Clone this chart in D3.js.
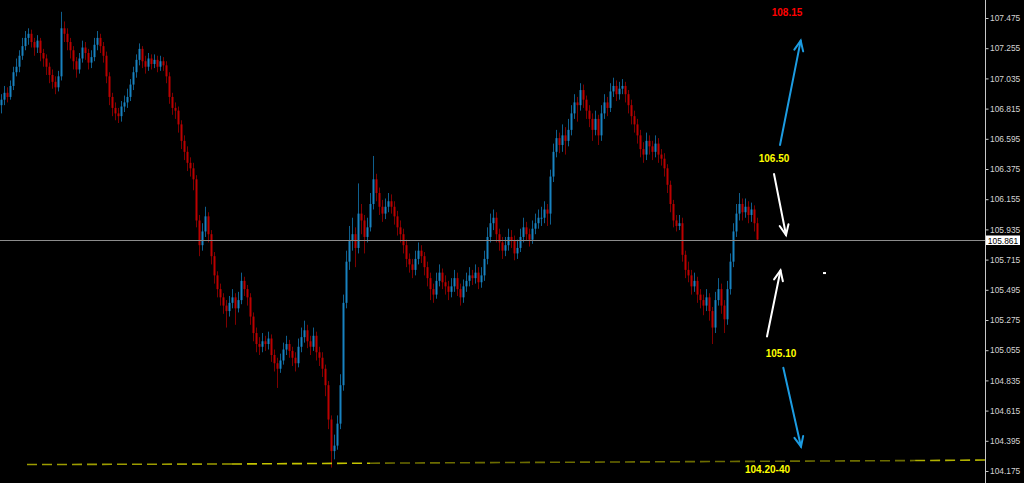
<!DOCTYPE html>
<html><head><meta charset="utf-8">
<script src="https://cdn.jsdelivr.net/npm/d3@7"></script>
<style>html,body{margin:0;padding:0;background:#000;overflow:hidden}</style>
</head><body><svg id="c" width="1024" height="483"></svg>
<script>
// ---- data ----
const firstOpen = 106.84;
const closes = [
106.88,106.93,106.90,106.98,107.08,107.12,107.20,107.27,107.33,107.36,
107.30,107.26,107.31,107.22,107.18,107.12,107.06,107.01,106.97,107.05,
107.40,107.36,107.30,107.24,107.16,107.10,107.18,107.26,107.22,107.15,
107.19,107.28,107.33,107.27,107.20,107.05,106.90,106.82,106.78,106.76,
106.83,106.86,106.90,106.99,107.08,107.17,107.25,107.16,107.12,107.18,
107.14,107.17,107.12,107.16,107.13,107.05,106.90,106.82,106.80,106.70,
106.58,106.50,106.42,106.38,106.30,106.00,105.82,105.92,106.03,105.90,
105.74,105.60,105.50,105.44,105.38,105.34,105.40,105.44,105.36,105.42,
105.56,105.50,105.44,105.30,105.18,105.10,105.08,105.12,105.10,105.14,
105.02,104.96,104.92,104.98,105.06,105.10,105.05,105.00,104.96,105.08,
105.15,105.20,105.12,105.08,105.16,105.04,105.00,104.92,104.80,104.55,
104.32,104.36,104.52,104.80,105.40,105.70,105.85,105.90,105.80,106.05,
106.00,105.88,105.95,106.12,106.30,106.20,106.10,106.05,106.10,106.14,
106.10,106.03,105.95,105.90,105.82,105.72,105.68,105.64,105.72,105.78,
105.74,105.66,105.58,105.50,105.46,105.56,105.62,105.55,105.52,105.48,
105.52,105.58,105.50,105.44,105.52,105.56,105.60,105.58,105.62,105.55,
105.60,105.72,105.88,105.98,106.02,105.90,105.84,105.78,105.82,105.88,
105.85,105.76,105.80,105.88,105.95,105.90,105.86,105.94,105.98,106.02,
106.02,106.08,106.05,106.32,106.50,106.60,106.55,106.62,106.58,106.66,
106.78,106.86,106.84,106.95,106.88,106.80,106.74,106.66,106.74,106.62,
106.78,106.86,106.82,106.94,106.98,106.92,106.96,106.98,106.92,106.84,
106.76,106.70,106.62,106.52,106.48,106.58,106.54,106.50,106.56,106.48,
106.45,106.38,106.26,106.12,106.00,105.96,105.98,105.75,105.64,105.60,
105.52,105.56,105.46,105.42,105.38,105.44,105.34,105.22,105.42,105.50,
105.38,105.28,105.50,105.70,105.92,106.05,106.12,106.06,106.10,106.04,106.08,105.98,105.861
];
const highs = [
106.92,106.98,106.97,107.02,107.12,107.18,107.24,107.33,107.38,107.40,
107.39,107.33,107.35,107.33,107.25,107.21,107.15,107.10,107.05,107.09,
107.52,107.45,107.40,107.33,107.27,107.19,107.22,107.31,107.30,107.25,
107.24,107.33,107.38,107.36,107.30,107.23,107.08,106.93,106.86,106.82,
106.87,106.91,106.96,107.03,107.12,107.21,107.29,107.27,107.20,107.22,
107.21,107.21,107.20,107.20,107.19,107.16,107.08,106.93,106.86,106.83,
106.73,106.62,106.54,106.46,106.42,106.33,106.04,105.98,106.10,106.06,
105.93,105.77,105.63,105.54,105.47,105.42,105.45,105.50,105.47,105.48,
105.62,105.59,105.53,105.47,105.33,105.22,105.15,105.18,105.16,105.19,
105.17,105.06,105.00,105.03,105.11,105.16,105.13,105.08,105.04,105.14,
105.22,105.27,105.24,105.16,105.22,105.19,105.08,105.04,104.95,104.83,
104.58,104.44,104.58,104.88,105.46,105.78,105.96,106.02,105.95,106.27,
106.12,106.04,106.02,106.20,106.47,106.34,106.24,106.15,106.16,106.20,
106.19,106.14,106.07,106.00,105.94,105.86,105.76,105.72,105.78,105.84,
105.82,105.77,105.70,105.62,105.54,105.62,105.68,105.65,105.60,105.56,
105.58,105.64,105.62,105.54,105.57,105.62,105.66,105.64,105.68,105.66,
105.66,105.78,105.95,106.05,106.08,106.06,105.94,105.88,105.88,105.94,
105.93,105.89,105.86,105.94,106.02,105.99,105.94,106.00,106.05,106.08,
106.10,106.14,106.12,106.37,106.56,106.66,106.64,106.70,106.68,106.74,
106.84,106.92,106.90,107.00,106.99,106.91,106.84,106.78,106.80,106.77,
106.84,106.92,106.90,107.00,107.04,107.02,107.01,107.03,107.01,106.95,
106.88,106.80,106.74,106.66,106.57,106.64,106.62,106.58,106.62,106.60,
106.52,106.49,106.41,106.29,106.15,106.04,106.04,106.02,105.78,105.70,
105.64,105.62,105.59,105.50,105.46,105.50,105.47,105.37,105.48,105.58,
105.54,105.42,105.56,105.76,105.98,106.12,106.20,106.16,106.16,106.14,106.13,106.11,106.02
];
const lows = [
106.78,106.84,106.86,106.88,106.95,107.05,107.08,107.17,107.24,107.28,
107.26,107.20,107.22,107.16,107.12,107.06,107.00,106.96,106.92,106.94,
107.02,107.30,107.24,107.18,107.10,107.04,107.07,107.15,107.17,107.10,
107.11,107.16,107.24,107.22,107.15,107.00,106.84,106.76,106.73,106.71,
106.72,106.79,106.82,106.87,106.95,107.04,107.13,107.11,107.07,107.09,
107.10,107.11,107.08,107.09,107.09,107.00,106.85,106.77,106.74,106.64,
106.52,106.44,106.36,106.32,106.22,105.95,105.74,105.78,105.88,105.84,
105.68,105.54,105.44,105.38,105.32,105.22,105.30,105.36,105.24,105.33,
105.39,105.45,105.38,105.24,105.12,105.04,105.02,105.04,105.05,105.06,
104.97,104.90,104.78,104.89,104.95,105.02,105.00,104.94,104.90,104.93,
105.04,105.11,105.07,105.02,105.05,104.98,104.94,104.86,104.72,104.48,
104.20,104.26,104.33,104.48,104.76,105.36,105.64,105.78,105.66,105.76,
105.90,105.76,105.84,105.92,106.08,106.14,106.04,105.99,106.01,106.06,
106.05,105.97,105.89,105.84,105.76,105.66,105.62,105.58,105.60,105.68,
105.69,105.60,105.52,105.42,105.40,105.43,105.52,105.50,105.46,105.42,
105.44,105.48,105.45,105.38,105.40,105.48,105.52,105.53,105.54,105.50,
105.51,105.56,105.68,105.84,105.93,105.84,105.78,105.72,105.74,105.78,
105.80,105.71,105.72,105.77,105.84,105.85,105.81,105.83,105.90,105.94,
105.96,105.98,105.96,105.97,106.28,106.46,106.49,106.50,106.48,106.54,
106.62,106.74,106.72,106.80,106.82,106.74,106.68,106.58,106.62,106.55,
106.58,106.74,106.76,106.79,106.90,106.87,106.88,106.92,106.86,106.78,
106.70,106.64,106.56,106.46,106.42,106.44,106.48,106.44,106.46,106.42,
106.40,106.32,106.20,106.06,105.95,105.92,105.93,105.70,105.58,105.55,
105.46,105.48,105.40,105.36,105.31,105.34,105.27,105.10,105.18,105.38,
105.32,105.18,105.24,105.46,105.66,105.88,106.00,106.00,106.02,105.98,105.99,105.92,105.85
];
const priceTicks = [107.475,107.255,107.035,106.815,106.595,106.375,106.155,105.935,
  105.715,105.495,105.275,105.055,104.835,104.615,104.395,104.175];
const lastPrice = 105.861;
const barSlots = 328;             // bar slots across the plot (data + empty right side)
const trendIdx   = [8.67, 77, 123, 304.7, 328];
const trendPrice = [104.222, 104.226, 104.232, 104.251, 104.255];
const trendColors = ["#9c9c00", "#c4c400", "#6c6c00", "#b0b000"];
const arrowFrom = [[259.67,106.550],[257.67,106.339],[255.33,105.155],[260.77,104.927]];
const arrowTo   = [[266.57,107.310],[261.67,105.894],[259.83,105.636],[266.67,104.352]];
const arrowColors = ["#1c9ce2","#ffffff","#ffffff","#1c9ce2"];
const labelText  = ["108.15","106.50","105.10","104.20-40"];
const labelAt    = [[262,107.486],[257.67,106.426],[260,105.005],[255.5,104.160]];
const labelColors = ["#ff0000","#ffff00","#ffff00","#ffff00"];
const markAt = [274.5, 105.617];

// ---- drawing ----
const svg = d3.select("#c");
svg.append("rect").attr("width",1024).attr("height",483).attr("fill","#000");
const y = d3.scaleLinear().domain([104.175,107.475]).range([471,18]);
const x = d3.scaleLinear().domain([0,barSlots]).range([1,985]);

const n = Math.min(closes.length, highs.length, lows.length);
const bars = d3.range(n).map(i => ({
  i, o: i === 0 ? firstOpen : closes[i-1], c: closes[i], h: highs[i], l: lows[i]
}));

const g = svg.append("g");
g.selectAll("line.wick").data(bars).join("line")
  .attr("x1", d => Math.round(x(d.i)) + 0.5).attr("x2", d => Math.round(x(d.i)) + 0.5)
  .attr("y1", d => y(d.h)).attr("y2", d => y(d.l))
  .attr("stroke", d => d.c >= d.o ? "#0f5f8e" : "#800000").attr("stroke-width",1);
g.selectAll("rect.body").data(bars).join("rect")
  .attr("x", d => Math.round(x(d.i)) - 0.5).attr("width", 2)
  .attr("y", d => y(Math.max(d.o,d.c)))
  .attr("height", d => Math.max(1, Math.abs(y(d.o) - y(d.c))))
  .attr("fill", d => d.c >= d.o ? "#1882c0" : "#bc0000");

// current price line
svg.append("line").attr("x1",0).attr("x2",985)
  .attr("y1", Math.round(y(lastPrice))+0.5).attr("y2", Math.round(y(lastPrice))+0.5)
  .attr("stroke","#8c8c8c").attr("stroke-width",1);

// dashed trend line segments
for (let k = 0; k < trendIdx.length-1; k++) {
  svg.append("line")
    .attr("x1", x(trendIdx[k])).attr("x2", x(trendIdx[k+1]))
    .attr("y1", y(trendPrice[k])).attr("y2", y(trendPrice[k+1]))
    .attr("stroke", trendColors[k]).attr("stroke-width",1.6)
    .attr("stroke-dasharray","10,5");
}

// arrows
arrowFrom.forEach((f,k) => {
  const x1 = x(f[0]), y1 = y(f[1]), x2 = x(arrowTo[k][0]), y2 = y(arrowTo[k][1]);
  const a = Math.atan2(y2-y1, x2-x1), L = 11, s = 0.42;
  const col = arrowColors[k];
  const ag = svg.append("g").attr("stroke", col).attr("stroke-width",2).attr("fill","none")
    .attr("stroke-linecap","round");
  ag.append("line").attr("x1",x1).attr("y1",y1).attr("x2",x2).attr("y2",y2);
  ag.append("path").attr("d",
    `M${x2 - L*Math.cos(a - s)},${y2 - L*Math.sin(a - s)}L${x2},${y2}L${x2 - L*Math.cos(a + s)},${y2 - L*Math.sin(a + s)}`);
});

// labels
labelText.forEach((t,k) => {
  svg.append("text").attr("x", x(labelAt[k][0])).attr("y", y(labelAt[k][1]))
    .attr("text-anchor","middle").attr("fill", labelColors[k])
    .attr("font-family","'Liberation Sans', Arial, sans-serif").attr("font-weight","bold")
    .attr("font-size","10px").text(t);
});

// small marker
svg.append("rect").attr("x", x(markAt[0]) - 1.5).attr("y", y(markAt[1]) - 1)
  .attr("width",3).attr("height",2).attr("fill","#ffffff");

// right price axis
svg.append("line").attr("x1",985.5).attr("x2",985.5).attr("y1",0).attr("y2",483)
  .attr("stroke","#c8c8c8").attr("stroke-width",1);
const axis = d3.axisRight(y).tickValues(priceTicks).tickSize(3).tickPadding(1.5)
  .tickFormat(d3.format(".3f"));
const ag = svg.append("g").attr("transform","translate(985.5,0)").call(axis);
ag.select(".domain").remove();
ag.selectAll(".tick line").attr("stroke","#c8c8c8");
ag.selectAll(".tick text").attr("fill","#d4d4d4")
  .attr("font-family","'Liberation Sans', Arial, sans-serif").attr("font-size","8.4px");

// last price box
const ly = Math.round(y(lastPrice));
svg.append("rect").attr("x",986).attr("y",ly-4.5).attr("width",34).attr("height",9.5)
  .attr("fill","#ffffff");
svg.append("text").attr("x",1003).attr("y",ly+3.5).attr("text-anchor","middle")
  .attr("fill","#000").attr("font-family","'Liberation Sans', Arial, sans-serif")
  .attr("font-size","8.4px").text(d3.format(".3f")(lastPrice));
</script>
</body></html>
